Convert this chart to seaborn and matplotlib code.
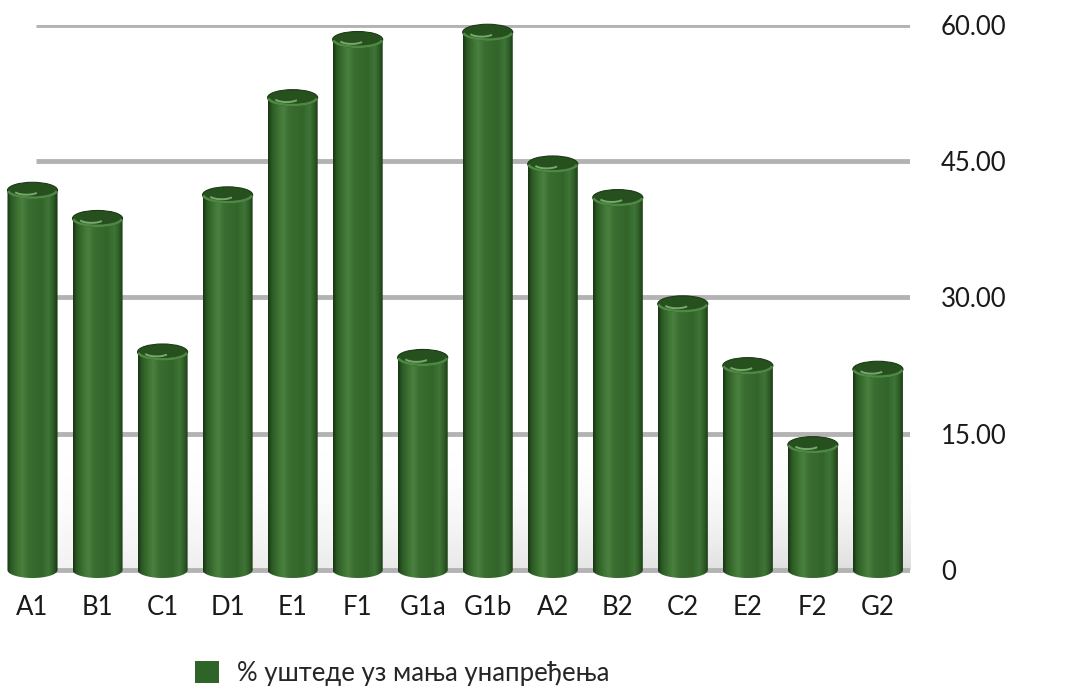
import numpy as np
import matplotlib
matplotlib.use("Agg")
import matplotlib.pyplot as plt
import seaborn as sns
import pandas as pd
from matplotlib.patches import Ellipse, PathPatch, Rectangle, Arc
from matplotlib.path import Path
from matplotlib.colors import LinearSegmentedColormap

# --- data -------------------------------------------------------------
categories = ["A1", "B1", "C1", "D1", "E1", "F1", "G1a", "G1b",
              "A2", "B2", "C2", "E2", "F2", "G2"]
savings = [41.8, 38.7, 24.0, 41.3, 52.0, 58.4, 23.4, 59.2,
           44.7, 41.0, 29.3, 22.5, 13.8, 22.1]
y_ticks = [0, 15, 30, 45, 60]
y_tick_labels = ["0", "15.00", "30.00", "45.00", "60.00"]
series_label = "% уштеде уз мања унапређења"

df = pd.DataFrame({"category": categories, "value": savings})

# --- style ------------------------------------------------------------
sns.set_theme(style="white")
plt.rcParams["font.family"] = ["Lato", "DejaVu Sans"]

BASE_GREEN = "#2f6428"
cyl_cmap = LinearSegmentedColormap.from_list(
    "cylinder",
    [(0.00, "#173311"), (0.07, "#2a5823"), (0.20, "#3d7233"),
     (0.30, "#4a8040"), (0.42, "#3a6d30"), (0.68, "#33652a"),
     (0.82, "#3f7537"), (0.92, "#2b5824"), (1.00, "#163110")])

Y_MIN, Y_MAX = -1.5, 60.0

fig = plt.figure(figsize=(10.89, 6.88), dpi=100)
ax = fig.add_axes([0.0, 0.1517, 0.836, 0.812])

sns.barplot(data=df, x="category", y="value", color=BASE_GREEN,
            width=0.77, ax=ax, zorder=3)

ax.set_xlim(-0.5, len(categories) - 0.5)
ax.set_ylim(Y_MIN, Y_MAX)

# pixel -> data conversion for the elliptical caps
fig.canvas.draw()
bbox = ax.get_window_extent()
px_per_unit = bbox.height / (Y_MAX - Y_MIN)
cap_h = 16.0 / px_per_unit

grad = np.linspace(0, 1, 256).reshape(1, -1)

# soft floor shadow behind the lower part of the bars
sx = np.linspace(0, 1, 400)
sy = np.linspace(0, 1, 200)
SX, SY = np.meshgrid(sx, sy)
shadow = (1 - SY) ** 2 * (0.35 + 0.65 * SX)
ax.imshow(shadow, cmap=LinearSegmentedColormap.from_list(
              "shade", ["#ffffff", "#d9d9d9"]),
          aspect="auto", extent=[-0.2, len(categories) - 0.3, 0, 14],
          origin="lower", zorder=0.5, alpha=0.9, interpolation="bicubic")

for patch in list(ax.patches):
    x0 = patch.get_x()
    w = patch.get_width()
    v = patch.get_height()
    xc = x0 + w / 2
    patch.set_visible(False)

    # body outline: straight sides with a rounded (elliptical) bottom
    t = np.linspace(np.pi, 2 * np.pi, 60)
    bottom = np.column_stack([xc + w / 2 * np.cos(t), cap_h / 2 * np.sin(t)])
    verts = np.vstack([[x0, v], [x0, 0], bottom, [x0 + w, v], [x0, v]])
    codes = [Path.MOVETO] + [Path.LINETO] * (len(verts) - 2) + [Path.CLOSEPOLY]
    body = PathPatch(Path(verts, codes), transform=ax.transData,
                     facecolor="none", edgecolor="none")
    ax.add_patch(body)
    img = ax.imshow(grad, cmap=cyl_cmap, aspect="auto",
                    extent=[x0, x0 + w, -cap_h, v], zorder=3,
                    interpolation="bicubic")
    img.set_clip_path(body)

    # top cap with a lit front rim
    ax.add_patch(Ellipse((xc, v), w, cap_h, facecolor="#26501e",
                         edgecolor="#1b3a15", linewidth=0.8, zorder=4,
                         clip_on=False))
    ax.add_patch(Arc((xc, v), w * 0.97, cap_h * 0.92, theta1=190, theta2=350,
                     edgecolor="#4f8744", linewidth=1.8, zorder=5,
                     clip_on=False))
    ax.add_patch(Arc((xc - w * 0.12, v), w * 0.5, cap_h * 0.55,
                     theta1=230, theta2=300, edgecolor="#8cc07f",
                     linewidth=1.4, zorder=5, clip_on=False, alpha=0.8))

ax.set_xlim(-0.5, len(categories) - 0.5)
ax.set_ylim(Y_MIN, Y_MAX)

# horizontal gridlines
for yv in y_ticks:
    ax.axhline(yv, xmin=0.04, xmax=1.0, color="#b3b3b3", linewidth=3.5,
               zorder=1, solid_capstyle="butt")

# axes decoration
for side in ["top", "left", "bottom", "right"]:
    ax.spines[side].set_visible(False)
ax.yaxis.tick_right()
ax.set_yticks(y_ticks)
ax.set_yticklabels(y_tick_labels, fontsize=18.5, color="#1a1a1a")
ax.tick_params(axis="y", length=0, pad=22)
ax.tick_params(axis="x", length=0, pad=8)
ax.set_xticks(range(len(categories)))
ax.set_xticklabels(categories, fontsize=18.5, color="#1a1a1a")
ax.set_xlabel("")
ax.set_ylabel("")

handle = Rectangle((0, 0), 1, 1, facecolor=BASE_GREEN, edgecolor="none")
fig.legend([handle], [series_label], loc="lower left",
           bbox_to_anchor=(0.160, -0.027), frameon=False, fontsize=18.5,
           handlelength=0.95, handleheight=0.95, handletextpad=0.7,
           borderpad=0.3)

fig.savefig("out.png", dpi=100, facecolor="white")
